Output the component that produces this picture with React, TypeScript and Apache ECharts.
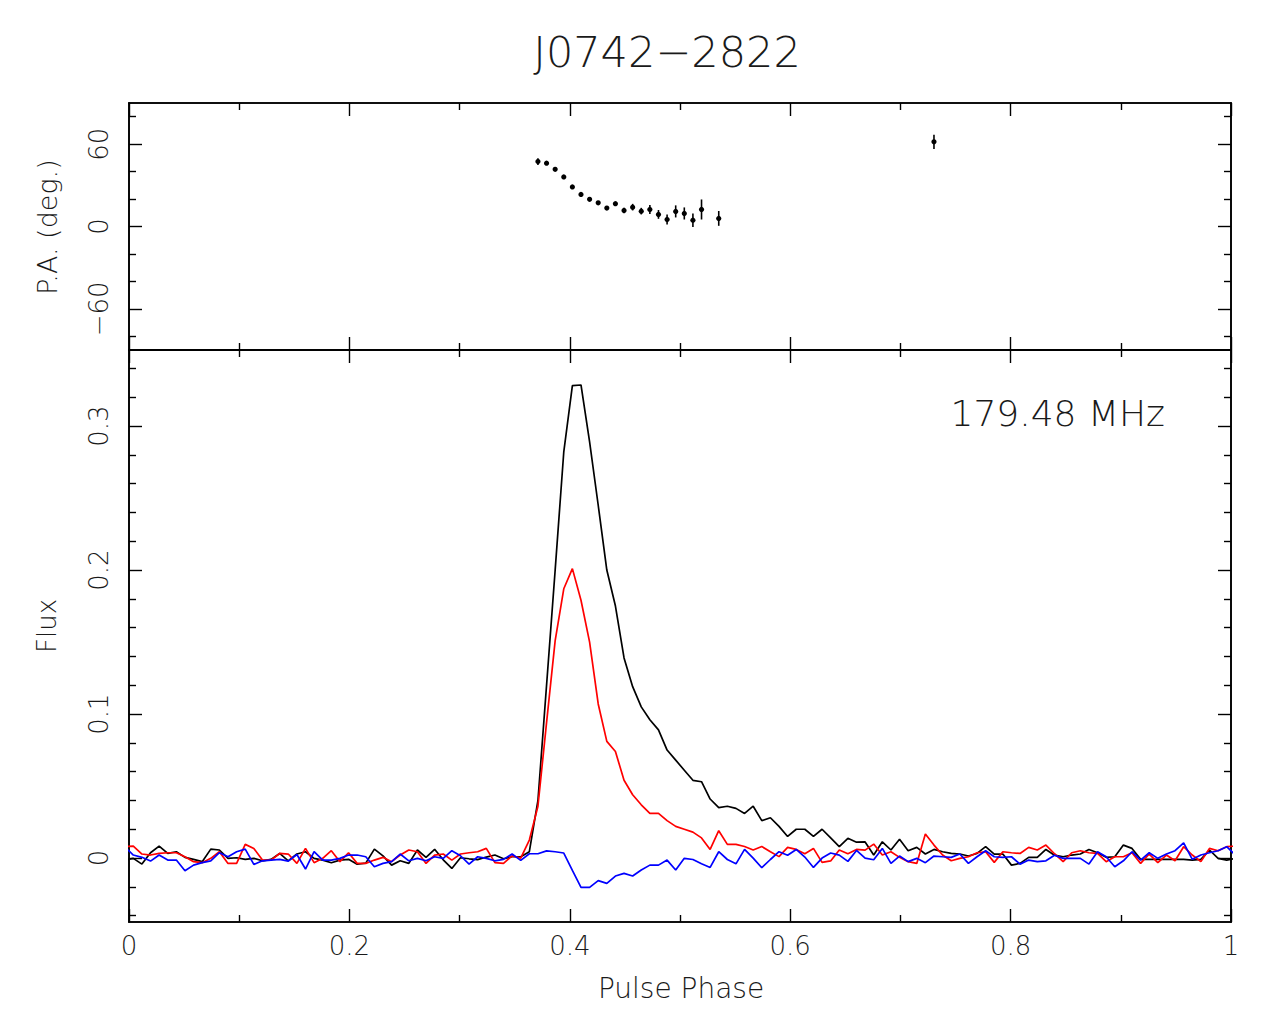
import React, { useEffect, useRef } from "react";
import * as echarts from "echarts";

// Pulse profile of J0742-2822 at 179.48 MHz, 128 phase bins.
const N_BINS = 128;

// Total intensity (Stokes I)
const stokesI = [
  -0.0002, -0.0042, 0.0037, 0.0083, 0.0032, 0.0044, 0.0005, -0.0009, -0.0025, 0.0062,
  0.0056, -0.0002, 0.0002, -0.0009, -0.0002, -0.0019, -0.0009, 0.0032, -0.0019, 0.0028,
  0.0044, -0.0002, -0.0014, -0.0033, -0.0014, -0.0009, -0.0043, -0.0035, 0.0062, 0.0015,
  -0.0049, -0.0019, -0.0037, 0.0056, 0.0005, 0.0061, -0.0012, -0.0072, 0.0002, -0.0005,
  -0.0011, 0.0007, 0.0021, -0.0005, 0.0009, 0.0009, 0.0044, 0.040, 0.120, 0.200,
  0.282, 0.328, 0.3285, 0.289, 0.245, 0.200, 0.175, 0.139, 0.119, 0.105,
  0.096, 0.089, 0.075, 0.068, 0.061, 0.054, 0.053, 0.041, 0.035, 0.036,
  0.0345, 0.031, 0.036, 0.026, 0.028, 0.022, 0.015, 0.020, 0.020, 0.015,
  0.020, 0.014, 0.008, 0.0137, 0.011, 0.0112, 0.0021, 0.0113, 0.0056, 0.013,
  0.0051, 0.0074, 0.0028, 0.006, 0.0044, 0.0032, 0.0028, 0.0014, 0.0032, 0.0079,
  0.0028, 0.0028, -0.0049, -0.0037, 0.0005, 0.0005, 0.006, 0.002, 0.0009, 0.0021,
  0.0028, 0.006, 0.0037, 0.0005, 0.0009, 0.009, 0.0067, -0.0009, -0.0009, -0.0009,
  -0.0009, -0.0009, -0.0009, -0.0014, -0.0009, 0.0056, -0.0002, -0.0014,
];

// Linear polarisation
const linearPol = [
  0.0083, 0.0028, 0.0021, 0.0032, 0.0037, 0.0037, 0.0009, -0.0025, -0.0032, -0.0002,
  0.0044, -0.0037, -0.0037, 0.0095, 0.0067, -0.0014, -0.0014, 0.0032, 0.0028, -0.0037,
  0.0067, -0.0032, -0.0002, 0.0051, -0.0025, 0.0037, -0.0037, -0.0037, -0.0014, 0.0005,
  -0.0025, 0.0021, 0.0056, 0.0044, -0.0037, 0.0021, 0.0028, -0.0014, 0.0028, 0.0037,
  0.0044, 0.0067, -0.0032, -0.0037, 0.0015, 0.0, 0.0125, 0.036, 0.094, 0.151,
  0.187, 0.201, 0.179, 0.150, 0.107, 0.081, 0.074, 0.054, 0.044, 0.037,
  0.031, 0.031, 0.026, 0.022, 0.020, 0.018, 0.014, 0.006, 0.019, 0.0095,
  0.0095, 0.008, 0.0056, 0.008, 0.0044, 0.001, 0.0074, 0.006, 0.003, 0.0067,
  -0.003, -0.002, 0.0056, 0.003, 0.006, 0.0055, 0.0097, 0.0021, 0.0044, 0.0005,
  -0.0025, -0.0037, 0.0167, 0.009, 0.0021, -0.0019, -0.0002, 0.0009, 0.0037, 0.0044,
  -0.003, 0.0044, 0.0037, 0.0032, 0.0074, 0.0056, 0.009, 0.003, -0.0025, 0.0037,
  0.0051, 0.0037, 0.0032, -0.0025, 0.0009, 0.0009, 0.0037, -0.0037, 0.0028, -0.0032,
  0.0021, -0.0019, 0.0079, 0.0021, -0.0025, 0.0067, 0.0051, 0.0079,
];

// Circular polarisation (Stokes V)
const circularPol = [
  0.0021, 0.0005, -0.0021, 0.0021, -0.0014, -0.0014, -0.0088, -0.0049, -0.0032, -0.0019,
  0.0037, 0.0009, 0.0044, 0.0062, -0.0044, -0.0019, -0.0014, -0.0009, -0.0021, 0.0025,
  -0.0076, 0.0044, -0.0014, -0.0014, -0.0002, 0.0021, 0.0021, 0.0009, -0.006, -0.0037,
  -0.0025, 0.0028, -0.0019, -0.0002, -0.0019, 0.0009, -0.0002, 0.0051, 0.0016, -0.0042,
  0.0009, -0.0002, -0.0019, -0.0009, 0.0028, -0.0016, 0.003, 0.003, 0.005, 0.0044,
  0.0035, -0.0086, -0.0204, -0.0204, -0.0157, -0.0176, -0.0125, -0.0106, -0.0125, -0.0083,
  -0.0049, -0.0049, -0.0014, -0.0083, -0.0002, -0.001, -0.004, -0.0065, 0.0044, -0.001,
  -0.004, 0.006, 0.0, -0.0067, -0.001, 0.0044, 0.002, 0.006, 0.0007, -0.0065,
  0.0, 0.0035, 0.002, -0.0023, 0.0053, -0.0001, -0.0012, 0.0067, -0.0037, 0.0014,
  -0.0025, -0.0002, -0.0032, 0.0014, 0.0009, 0.0005, 0.0028, -0.0037, 0.0009, 0.0051,
  0.0009, 0.0005, 0.0009, -0.0042, -0.0014, -0.0025, -0.0019, 0.002, -0.0002, -0.0002,
  -0.0002, -0.0042, 0.0044, 0.0009, -0.006, -0.0019, 0.0044, -0.0014, 0.0037, -0.0002,
  0.0028, 0.0051, 0.0106, -0.0009, 0.0021, 0.0037, 0.0051, 0.0079,
];

// Position angle: bin index, value (deg) and 1-sigma error (deg)
const paBins = [47, 48, 49, 50, 51, 52, 53, 54, 55, 56, 57, 58, 59, 60, 61, 62, 63, 64, 65, 66, 68, 93];
const paDeg = [47.3, 46.1, 41.7, 36.1, 28.8, 23.4, 19.8, 17.3, 13.4, 16.6, 11.7, 14.1, 11.2, 12.4, 8.8, 5.1, 11.0, 9.5, 4.6, 12.4, 5.9, 61.7];
const paErr = [2.4, 1.0, 0.7, 0.7, 0.7, 0.7, 0.7, 0.7, 0.7, 1.0, 2.0, 2.4, 2.4, 3.2, 3.2, 3.7, 4.4, 4.4, 4.9, 7.3, 5.4, 5.2];

// Tick positions
const phaseMajor = [0, 0.2, 0.4, 0.6, 0.8, 1];
const phaseMinor = [0.1, 0.3, 0.5, 0.7, 0.9];
const paMajor = [-60, 0, 60];
const paMinor = [-80, -40, -20, 20, 40, 80];
const fluxMajor = [0, 0.1, 0.2, 0.3];
const fluxMinor = [-0.04, -0.02, 0.02, 0.04, 0.06, 0.08, 0.12, 0.14, 0.16, 0.18, 0.22, 0.24, 0.26, 0.28, 0.32, 0.34];

const PA_MIN = -90;
const PA_MAX = 90;
const FLUX_MIN = -0.0444;
const FLUX_MAX = 0.3528;

const FONT = "DejaVu Sans";
const WEIGHT = 200;
const INK = "#1a1a1a";

const binPhase = (i: number) => (i + 0.5) / N_BINS;

// Profile points, wrapped by one bin on each side so the trace spans the full phase range
function profile(values: number[]) {
  const pts: number[][] = values.map((v, i) => [binPhase(i), v]);
  return [[binPhase(-1), values[N_BINS - 1]], ...pts, [binPhase(N_BINS), values[0]]];
}

const fmt = (v: number) => String(+Number(v).toFixed(3)).replace("-", "\u2212");

function xAxis(grid: number, pos: "top" | "bottom", ticks: number[], len: number, labels = false) {
  return {
    type: "value",
    gridIndex: grid,
    position: pos,
    min: 0,
    max: 1,
    axisLine: { show: true, onZero: false, lineStyle: { color: "#000", width: 1.6 } },
    axisTick: { show: true, inside: true, length: len, customValues: ticks, lineStyle: { color: "#000", width: 1.4 } },
    axisLabel: labels
      ? { show: true, customValues: ticks, formatter: fmt, fontSize: 26, fontFamily: FONT, fontWeight: WEIGHT, color: INK, margin: 11 }
      : { show: false },
    splitLine: { show: false },
    minorTick: { show: false },
  };
}

function yAxis(grid: number, pos: "left" | "right", min: number, max: number, ticks: number[], len: number, labels = false) {
  return {
    type: "value",
    gridIndex: grid,
    position: pos,
    min,
    max,
    axisLine: { show: true, onZero: false, lineStyle: { color: "#000", width: 1.6 } },
    axisTick: { show: true, inside: true, length: len, customValues: ticks, lineStyle: { color: "#000", width: 1.4 } },
    axisLabel: labels
      ? { show: true, customValues: ticks, formatter: fmt, rotate: 90, fontSize: 26, fontFamily: FONT, fontWeight: WEIGHT, color: INK, margin: 17 }
      : { show: false },
    splitLine: { show: false },
    minorTick: { show: false },
  };
}

const MAJOR = 13;
const MINOR = 7;

export default function App() {
  const ref = useRef<HTMLDivElement>(null);

  useEffect(() => {
    if (!ref.current) return;
    const chart = echarts.init(ref.current, null, { renderer: "svg" });

    const paData = paBins.map((b, i) => [binPhase(b), paDeg[i], paErr[i]]);

    const lineSeries = (name: string, values: number[], color: string) => ({
      name,
      type: "line",
      xAxisIndex: 4,
      yAxisIndex: 4,
      data: profile(values),
      symbol: "none",
      clip: true,
      lineStyle: { color, width: 1.7 },
      emphasis: { disabled: true },
    });

    const label = (text: string, x: number, y: number, size: number, extra: any = {}) => ({
      type: "text",
      x,
      y,
      ...extra,
      style: {
        text,
        fontSize: size,
        fontFamily: FONT,
        fontWeight: WEIGHT,
        fill: INK,
        align: extra.align || "center",
        verticalAlign: "middle",
      },
    });

    chart.setOption({
      animation: false,
      backgroundColor: "#fff",
      grid: [
        { left: 129, top: 103, width: 1102, height: 247 },
        { left: 129, top: 350, width: 1102, height: 572 },
      ],
      xAxis: [
        xAxis(0, "bottom", phaseMajor, MAJOR),
        xAxis(0, "bottom", phaseMinor, MINOR),
        xAxis(0, "top", phaseMajor, MAJOR),
        xAxis(0, "top", phaseMinor, MINOR),
        xAxis(1, "bottom", phaseMajor, MAJOR, true),
        xAxis(1, "bottom", phaseMinor, MINOR),
        xAxis(1, "top", phaseMajor, MAJOR),
        xAxis(1, "top", phaseMinor, MINOR),
      ],
      yAxis: [
        yAxis(0, "left", PA_MIN, PA_MAX, paMajor, MAJOR, true),
        yAxis(0, "left", PA_MIN, PA_MAX, paMinor, MINOR),
        yAxis(0, "right", PA_MIN, PA_MAX, paMajor, MAJOR),
        yAxis(0, "right", PA_MIN, PA_MAX, paMinor, MINOR),
        yAxis(1, "left", FLUX_MIN, FLUX_MAX, fluxMajor, MAJOR, true),
        yAxis(1, "left", FLUX_MIN, FLUX_MAX, fluxMinor, MINOR),
        yAxis(1, "right", FLUX_MIN, FLUX_MAX, fluxMajor, MAJOR),
        yAxis(1, "right", FLUX_MIN, FLUX_MAX, fluxMinor, MINOR),
      ],
      series: [
        {
          name: "P.A.",
          type: "custom",
          xAxisIndex: 0,
          yAxisIndex: 0,
          data: paData,
          encode: { x: 0, y: 1 },
          renderItem: (_params: any, api: any) => {
            const x = api.value(0);
            const y = api.value(1);
            const e = api.value(2);
            const c = api.coord([x, y]);
            const hi = api.coord([x, y + e]);
            const lo = api.coord([x, y - e]);
            return {
              type: "group",
              children: [
                { type: "line", shape: { x1: c[0], y1: hi[1], x2: c[0], y2: lo[1] }, style: { stroke: "#000", lineWidth: 1.6 } },
                { type: "circle", shape: { cx: c[0], cy: c[1], r: 2.6 }, style: { fill: "#000" } },
              ],
            };
          },
        },
        lineSeries("I", stokesI, "#000000"),
        lineSeries("L", linearPol, "#ff0000"),
        lineSeries("V", circularPol, "#0000ff"),
      ],
      graphic: [
        label("J0742\u22122822", 667, 52, 43),
        label("179.48 MHz", 1165, 413, 36, { align: "right" }),
        label("P.A. (deg.)", 47, 227, 27, { rotation: Math.PI / 2 }),
        label("Flux", 47, 626, 26, { rotation: Math.PI / 2 }),
        label("Pulse Phase", 681, 988, 28),
      ],
    });

    return () => chart.dispose();
  }, []);

  return <div ref={ref} style={{ position: "absolute", left: 0, top: 0, width: 1288, height: 1022 }} />;
}
